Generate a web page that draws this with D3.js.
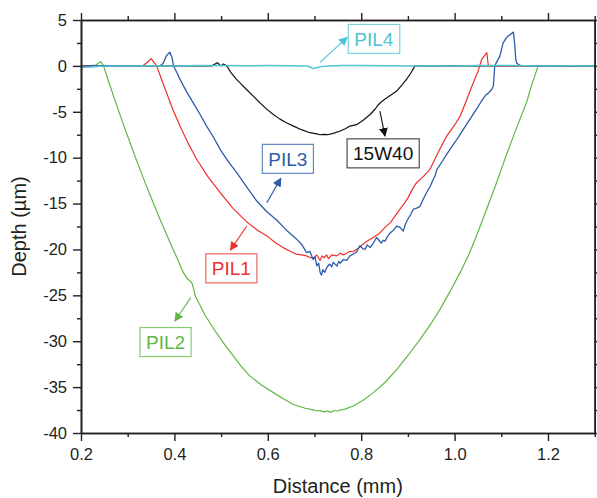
<!DOCTYPE html>
<html>
<head>
<meta charset="utf-8">
<script src="https://cdn.jsdelivr.net/npm/d3@7/dist/d3.min.js"></script>
<style>
  html, body { margin: 0; padding: 0; background: #fff; }
  svg { display: block; font-family: "Liberation Sans", Arial, sans-serif; }
</style>
</head>
<body>
<svg id="chart" width="597" height="498"></svg>
<script>
// ---------- data (Distance in mm, Depth in µm) ----------
const xTicksMajor = [0.2, 0.4, 0.6, 0.8, 1.0, 1.2];
const xTicksMinor = [0.3, 0.5, 0.7, 0.9, 1.1, 1.3];
const yTicksMajor = [5, 0, -5, -10, -15, -20, -25, -30, -35, -40];
const yTicksMinor = [2.5, -2.5, -7.5, -12.5, -17.5, -22.5, -27.5, -32.5, -37.5];

const seriesNames = ["15W40", "PIL2", "PIL1", "PIL3", "PIL4"];

const blackX = [0.2, 0.48, 0.492, 0.5, 0.505, 0.512, 0.522, 0.533, 0.54, 0.555, 0.569, 0.584, 0.598, 0.612, 0.626, 0.64, 0.655, 0.672, 0.69, 0.705, 0.712, 0.719, 0.728, 0.74, 0.755, 0.766, 0.776, 0.79, 0.805, 0.819, 0.83, 0.837, 0.846, 0.855, 0.866, 0.876, 0.887, 0.897, 0.906, 0.915, 1.3];
const blackY = [0, 0, 0.35, 0.0, 0.2, 0, -0.8, -1.47, -1.83, -2.6, -3.3, -4.05, -4.74, -5.3, -5.8, -6.2, -6.56, -6.95, -7.28, -7.4, -7.5, -7.46, -7.5, -7.35, -7.1, -6.85, -6.56, -6.4, -5.9, -5.3, -4.7, -4.2, -3.8, -3.47, -3.1, -2.74, -2.1, -1.47, -0.8, 0, 0];

const greenX = [0.2, 0.23, 0.242, 0.248, 0.26, 0.275, 0.29, 0.305, 0.32, 0.335, 0.35, 0.37, 0.39, 0.408, 0.419, 0.428, 0.437, 0.441, 0.444, 0.466, 0.49, 0.508, 0.526, 0.544, 0.562, 0.587, 0.612, 0.634, 0.655, 0.68, 0.695, 0.705, 0.713, 0.72, 0.728, 0.735, 0.742, 0.748, 0.765, 0.783, 0.805, 0.826, 0.851, 0.876, 0.901, 0.926, 0.948, 0.969, 0.99, 1.012, 1.03, 1.047, 1.068, 1.09, 1.108, 1.126, 1.14, 1.154, 1.162, 1.169, 1.179, 1.2, 1.3];
const greenY = [0, 0.05, 0.46, 0.05, -1.84, -4.08, -6.26, -8.38, -10.43, -12.42, -14.35, -16.82, -19.17, -21.2, -22.5, -23.2, -23.6, -24.2, -25.0, -27.2, -29.1, -30.4, -31.6, -32.8, -33.8, -34.8, -35.6, -36.3, -36.9, -37.3, -37.45, -37.6, -37.55, -37.7, -37.6, -37.75, -37.55, -37.6, -37.4, -37.06, -36.4, -35.6, -34.5, -33.1, -31.5, -29.8, -28.2, -26.5, -24.6, -22.5, -20.6, -18.5, -15.7, -12.7, -10.1, -7.65, -5.8, -4.0, -2.6, -1.47, 0, 0, 0];

const redX = [0.2, 0.3, 0.333, 0.342, 0.35, 0.356, 0.362, 0.372, 0.383, 0.397, 0.412, 0.43, 0.448, 0.472, 0.498, 0.525, 0.555, 0.578, 0.6, 0.617, 0.633, 0.648, 0.66, 0.672, 0.683, 0.692, 0.7, 0.705, 0.712, 0.716, 0.72, 0.726, 0.73, 0.737, 0.748, 0.755, 0.762, 0.776, 0.783, 0.79, 0.8, 0.812, 0.826, 0.84, 0.851, 0.862, 0.872, 0.883, 0.892, 0.901, 0.91, 0.919, 0.93, 0.947, 0.965, 0.983, 0.998, 1.012, 1.026, 1.04, 1.05, 1.058, 1.069, 1.072, 1.08, 1.3];
const redY = [0, 0, 0.05, 0.4, 0.78, 0.4, 0, -1.4, -2.9, -4.8, -6.56, -8.5, -10.2, -12.1, -13.8, -15.5, -17.0, -17.9, -18.6, -19.3, -19.8, -20.2, -20.5, -20.6, -20.7, -20.9, -20.9, -20.6, -21.2, -20.7, -20.9, -20.6, -21.0, -20.6, -20.7, -20.4, -20.6, -20.2, -20.25, -20.0, -19.6, -19.1, -18.7, -18.2, -17.6, -17.1, -16.4, -15.6, -15.0, -14.3, -13.4, -12.7, -12.2, -11.3, -9.4, -7.65, -6.6, -5.47, -3.7, -1.83, -0.6, 0.7, 1.44, 0.1, 0, 0];

const blueX = [0.2, 0.37, 0.376, 0.383, 0.39, 0.395, 0.398, 0.405, 0.412, 0.426, 0.44, 0.455, 0.469, 0.484, 0.498, 0.515, 0.533, 0.555, 0.576, 0.598, 0.619, 0.64, 0.662, 0.672, 0.683, 0.69, 0.697, 0.701, 0.705, 0.709, 0.712, 0.715, 0.718, 0.722, 0.726, 0.73, 0.733, 0.737, 0.74, 0.744, 0.748, 0.752, 0.755, 0.762, 0.769, 0.776, 0.783, 0.79, 0.797, 0.803, 0.808, 0.813, 0.819, 0.826, 0.833, 0.838, 0.843, 0.847, 0.851, 0.856, 0.862, 0.869, 0.876, 0.883, 0.89, 0.895, 0.901, 0.906, 0.912, 0.919, 0.926, 0.933, 0.94, 0.947, 0.954, 0.958, 0.962, 0.976, 0.99, 1.005, 1.019, 1.033, 1.047, 1.058, 1.065, 1.068, 1.072, 1.079, 1.083, 1.086, 1.092, 1.097, 1.104, 1.11, 1.115, 1.121, 1.126, 1.129, 1.131, 1.133, 1.14, 1.147, 1.3];
const blueY = [0, 0.05, 0.3, 1.1, 1.5, 0.9, 0, -0.7, -1.47, -2.8, -4.0, -5.3, -6.56, -7.8, -9.1, -10.4, -11.6, -13.2, -14.7, -15.9, -16.8, -17.9, -18.9, -19.4, -20.35, -20.2, -21.1, -20.8, -21.8, -21.5, -22.5, -22.8, -22.2, -22.5, -22.0, -21.7, -21.6, -21.9, -21.4, -21.6, -21.8, -21.3, -21.5, -21.1, -21.2, -20.7, -20.5, -20.3, -19.6, -19.9, -20.0, -19.5, -19.8, -19.3, -18.7, -19.0, -19.3, -19.0, -19.1, -18.6, -18.2, -17.9, -17.45, -17.6, -18.0, -17.2, -16.6, -16.2, -15.6, -15.5, -15.3, -14.5, -13.8, -13.2, -12.4, -12.0, -11.3, -10.2, -9.1, -8.0, -6.9, -5.8, -4.7, -3.8, -3.3, -3.1, -3.0, -2.6, -2.2, 0, 0.6, 1.07, 2.5, 3.0, 3.25, 3.5, 3.68, 2.2, 0.7, 0.3, 0.05, 0, 0];

const cyanX = [0.2, 0.22, 0.24, 0.27, 0.3, 0.35, 0.4, 0.45, 0.5, 0.55, 0.6, 0.64, 0.68, 0.69, 0.697, 0.705, 0.715, 0.73, 0.76, 0.8, 0.85, 0.9, 0.95, 1.0, 1.05, 1.1, 1.15, 1.2, 1.25, 1.3];
const cyanY = [-0.15, -0.12, -0.05, -0.02, 0, 0.02, 0, 0.03, 0.05, 0.02, 0.03, 0.02, 0, -0.1, -0.3, -0.18, -0.08, -0.02, 0.05, 0.03, 0.02, 0, 0.02, 0, 0.03, 0.05, 0.02, 0, 0.02, 0];

// annotation labels: text centre and arrow (tail -> head) in data units
const annotations = [
  { text: "PIL4",  color: "#4fc3d4", cx: 0.827, cy: 2.94,   from: [0.712, 0.38],   to: [0.770, 3.1] },
  { text: "15W40", color: "#111111", cx: 0.847, cy: -9.53,  from: [0.840, -4.92],  to: [0.851, -7.65] },
  { text: "PIL3",  color: "#2c5da9", cx: 0.643, cy: -10.13, from: [0.598, -14.9],  to: [0.628, -12.25] },
  { text: "PIL1",  color: "#ee2f2d", cx: 0.522, cy: -22.06, from: [0.555, -17.45], to: [0.520, -20.07] },
  { text: "PIL2",  color: "#5fb845", cx: 0.381, cy: -30.09, from: [0.435, -25.25], to: [0.401, -27.8] }
];

// ---------- drawing ----------
const svg = d3.select("#chart");
const L = 81, R = 594.7, T = 20, B = 433;
const x = d3.scaleLinear().domain([0.2, 1.3]).range([L, R]);
const y = d3.scaleLinear().domain([-40, 5]).range([B, T]);
const axisColor = "#231f20";

const defs = svg.append("defs");
defs.append("clipPath").attr("id", "clip").append("rect")
  .attr("x", L).attr("y", T).attr("width", R - L).attr("height", B - T);

const series = [
  { name: "15W40", xs: blackX, ys: blackY, color: "#111111", w: 1.2 },
  { name: "PIL2",  xs: greenX, ys: greenY, color: "#5fb845", w: 1.2 },
  { name: "PIL1",  xs: redX,   ys: redY,   color: "#ee2f2d", w: 1.2 },
  { name: "PIL3",  xs: blueX,  ys: blueY,  color: "#2c5da9", w: 1.3 },
  { name: "PIL4",  xs: cyanX,  ys: cyanY,  color: "#4fc3d4", w: 1.5 }
];

const line = d3.line().x(d => x(d[0])).y(d => y(d[1]));
const plot = svg.append("g").attr("clip-path", "url(#clip)");
series.forEach(s => {
  const pts = s.xs.map((v, i) => [v, s.ys[i]]);
  plot.append("path").datum(pts)
    .attr("d", line)
    .attr("fill", "none")
    .attr("stroke", s.color)
    .attr("stroke-width", s.w)
    .attr("stroke-linejoin", "round");
});

// axes
function styleAxis(g) {
  g.selectAll(".domain").attr("stroke", axisColor).attr("stroke-width", 1.6);
  g.selectAll(".tick line").attr("stroke", axisColor).attr("stroke-width", 1.4);
  g.selectAll(".tick text").attr("fill", axisColor)
    .style("font-family", "'Liberation Sans', Arial, sans-serif").style("font-size", "16.5px");
}
const fmtX = d3.format(".1f");
const fmtY = d => String(d);

// bottom
svg.append("g").attr("transform", `translate(0,${B})`)
  .call(d3.axisBottom(x).tickValues(xTicksMajor).tickFormat(fmtX).tickSize(8).tickSizeOuter(0).tickPadding(7))
  .call(styleAxis);
svg.append("g").attr("transform", `translate(0,${B})`)
  .call(d3.axisBottom(x).tickValues(xTicksMinor).tickFormat("").tickSize(4).tickSizeOuter(0))
  .call(styleAxis);
// top
svg.append("g").attr("transform", `translate(0,${T})`)
  .call(d3.axisTop(x).tickValues(xTicksMajor).tickFormat("").tickSize(7).tickSizeOuter(0))
  .call(styleAxis);
svg.append("g").attr("transform", `translate(0,${T})`)
  .call(d3.axisTop(x).tickValues(xTicksMinor).tickFormat("").tickSize(4).tickSizeOuter(0))
  .call(styleAxis);
// left
svg.append("g").attr("transform", `translate(${L},0)`)
  .call(d3.axisLeft(y).tickValues(yTicksMajor).tickFormat(fmtY).tickSize(8).tickSizeOuter(0).tickPadding(6))
  .call(styleAxis);
svg.append("g").attr("transform", `translate(${L},0)`)
  .call(d3.axisLeft(y).tickValues(yTicksMinor).tickFormat("").tickSize(4).tickSizeOuter(0))
  .call(styleAxis);
// right
svg.append("g").attr("transform", `translate(${R},0)`)
  .call(d3.axisRight(y).tickValues(yTicksMajor).tickFormat("").tickSize(8).tickSizeOuter(0))
  .call(styleAxis);
svg.append("g").attr("transform", `translate(${R},0)`)
  .call(d3.axisRight(y).tickValues(yTicksMinor).tickFormat("").tickSize(4).tickSizeOuter(0))
  .call(styleAxis);

// axis titles
svg.append("text")
  .attr("x", (L + R) / 2).attr("y", 493)
  .attr("text-anchor", "middle")
  .attr("fill", axisColor)
  .style("font-size", "20px")
  .text("Distance (mm)");
svg.append("text")
  .attr("transform", `translate(26,${(T + B) / 2}) rotate(-90)`)
  .attr("text-anchor", "middle")
  .attr("fill", axisColor)
  .style("font-size", "20px")
  .text("Depth (µm)");

// annotations
annotations.forEach((a, i) => {
  const id = "arr" + i;
  defs.append("marker").attr("id", id)
    .attr("viewBox", "0 0 10 10").attr("refX", 9).attr("refY", 5)
    .attr("markerWidth", 9).attr("markerHeight", 9)
    .attr("markerUnits", "userSpaceOnUse")
    .attr("orient", "auto")
    .append("path").attr("d", "M0,0 L10,5 L0,10 Z").attr("fill", a.color);
  svg.append("line")
    .attr("x1", x(a.from[0])).attr("y1", y(a.from[1]))
    .attr("x2", x(a.to[0])).attr("y2", y(a.to[1]))
    .attr("stroke", a.color).attr("stroke-width", 1.1)
    .attr("marker-end", `url(#${id})`);
  const g = svg.append("g");
  const t = g.append("text")
    .attr("x", x(a.cx)).attr("y", y(a.cy))
    .attr("text-anchor", "middle")
    .attr("dy", "0.36em")
    .attr("fill", a.color)
    .style("font-size", "19px")
    .text(a.text);
  const bb = t.node().getBBox();
  const padX = 6, h = 29;
  g.insert("rect", "text")
    .attr("x", bb.x - padX).attr("y", y(a.cy) - h / 2)
    .attr("width", bb.width + 2 * padX).attr("height", h)
    .attr("fill", "#fff")
    .attr("stroke", a.color).attr("stroke-opacity", 0.75).attr("stroke-width", 1.2);
});
</script>
</body>
</html>
